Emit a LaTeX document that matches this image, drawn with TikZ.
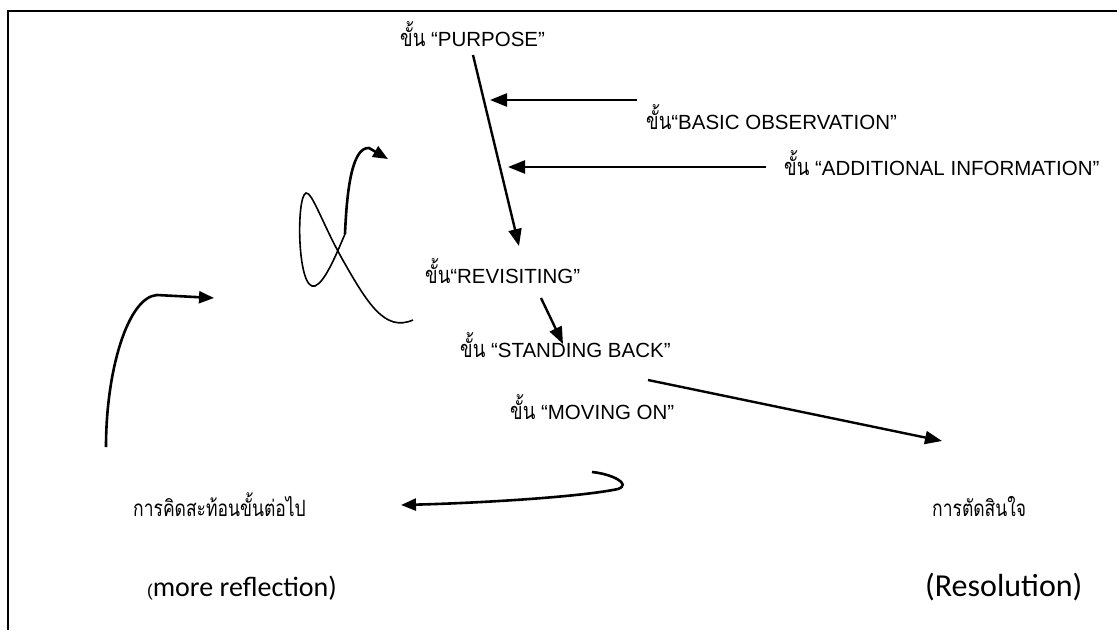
\documentclass[tikz,border=0pt]{standalone}
\usepackage{fontspec}
\setmainfont{Liberation Sans}
\newfontfamily\thaifont[Script=Thai,FakeStretch=0.78,Scale=1.15]{Loma}
\newfontfamily\calfont{Carlito}
\usetikzlibrary{arrows.meta}

\begin{document}
\begin{tikzpicture}[x=1pt,y=-1pt,
  lbl/.style={inner sep=0pt, anchor=base west, font=\fontsize{20.5}{24}\selectfont},
  thlbl/.style={inner sep=0pt, anchor=base west, font=\thaifont\fontsize{19.5}{24}\selectfont},
  big/.style={inner sep=0pt, anchor=base west, font=\calfont\fontsize{32}{36}\selectfont},
  arr/.style={line width=2.4pt, -{Triangle[length=17pt,width=13pt]}},
  harr/.style={line width=2.6pt, -{Triangle[length=15pt,width=12pt]}},
  thinline/.style={line width=1.6pt},
  frame/.style={line width=2.2pt}]
\useasboundingbox (0,0) rectangle (1117,630);

% open frame: top and left edges
\draw[frame] (8,630) -- (8,11) -- (1117,11);

% stage labels
\node[lbl] (purpose)    at (400,46)  {{\thaifont ขั้น} “PURPOSE”};
\node[lbl] (basic)      at (646,129) {{\thaifont ขั้น}“BASIC OBSERVATION”};
\node[lbl] (additional) at (784,175) {{\thaifont ขั้น} “ADDITIONAL INFORMATION”};
\node[lbl] (revisit)    at (425,283) {{\thaifont ขั้น}“REVISITING”};
\node[lbl] (standing)   at (460,357) {{\thaifont ขั้น} “STANDING BACK”};
\node[lbl] (moving)     at (510,419) {{\thaifont ขั้น} “MOVING ON”};
\node[thlbl] (reflectth) at (133,516) {การคิดสะท้อนขั้นต่อไป};
\node[thlbl] (resolveth) at (932,516) {การตัดสินใจ};
\node[big, font=\calfont\fontsize{28}{32}\selectfont] (reflecten) at (147,596)
  {{\fontsize{17}{20}\rmfamily(}more reflection)};
\node[big] (resolveen)  at (925,596) {(Resolution)};

% connector end points
\coordinate (p0) at (473,55);
\coordinate (p1) at (519,246);
\coordinate (b0) at (637,100);
\coordinate (b1) at (490,100);
\coordinate (a0) at (766,167);
\coordinate (a1) at (508,167);
\coordinate (r0) at (541,298);
\coordinate (r1) at (563,344);
\coordinate (s0) at (648,380);
\coordinate (s1) at (942,441);
\coordinate (m0) at (592,472);
\coordinate (m1) at (401,505);
\coordinate (l0) at (106,447);
\coordinate (l1) at (214,298);
\coordinate (c0) at (413,320);
\coordinate (c1) at (345,234);
\coordinate (c2) at (388,159);

% straight arrows
\draw[arr] (p0) -- (p1);
\draw[arr] (b0) -- (b1);
\draw[arr] (a0) -- (a1);
\draw[arr] (r0) -- (r1);
\draw[arr] (s0) -- (s1);

% hooked arrow from MOVING ON back to more reflection
\draw[harr] (m0) .. controls (612,474) and (632,484) .. (618,489)
  .. controls (580,497) and (480,503) .. (m1);

% rising arrow on the left
\draw[harr] (l0) .. controls (106,370) and (128,297) .. (157,295) -- (l1);

% figure-of-eight loop
\draw[thinline] (c0) .. controls (385,332) and (368,305) .. (340,255)
  .. controls (322,222) and (312,192) .. (306,193)
  .. controls (296,196) and (297,292) .. (315,286)
  .. controls (325,282) and (336,255) .. (c1);
\draw[harr] (c1) .. controls (347,185) and (353,147) .. (369,148) -- (c2);
\end{tikzpicture}
\end{document}
